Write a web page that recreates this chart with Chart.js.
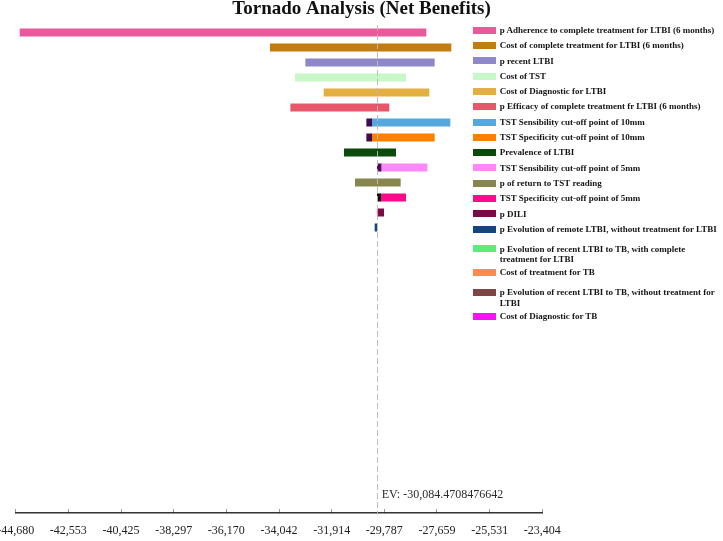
<!DOCTYPE html>
<html>
<head>
<meta charset="utf-8">
<script src="https://cdn.jsdelivr.net/npm/chart.js@4.4.1/dist/chart.umd.min.js"></script>
<style>
html,body{margin:0;padding:0;background:#fff;overflow:hidden;}
#wrap{position:relative;width:723px;height:541px;}
#c{position:absolute;left:0;top:0;}
#legend{position:absolute;left:473px;top:22.65px;width:250px;font-family:"Liberation Serif","Times New Roman",serif;font-weight:bold;font-size:9px;color:#151515;}
.item{display:flex;align-items:flex-start;padding-top:2.3px;min-height:13px;}
.box{width:22.7px;height:7px;margin-top:1.85px;flex:none;}
.txt{margin-left:4px;width:223px;line-height:10.7px;}
</style>
</head>
<body>
<div id="wrap">
<canvas id="c" width="723" height="541"></canvas>
<div id="legend"></div>
</div>
<script>
// ---- Data ----
const chartTitle = 'Tornado Analysis (Net Benefits)';
const expectedValue = -30084.4708476642;
const categories = [
  'p Adherence to complete treatment for LTBI (6 months)',
  'Cost of complete treatment for LTBI (6 months)',
  'p recent LTBI',
  'Cost of TST',
  'Cost of Diagnostic for LTBI',
  'p Efficacy of complete treatment fr LTBI (6 months)',
  'TST Sensibility cut-off point of 10mm',
  'TST Specificity cut-off point of 10mm',
  'Prevalence of LTBI',
  'TST Sensibility cut-off point of 5mm',
  'p of return to TST reading',
  'TST Specificity cut-off point of 5mm',
  'p DILI',
  'p Evolution of remote LTBI, without treatment for LTBI',
  'p Evolution of recent LTBI to TB, with complete treatment for LTBI',
  'Cost of treatment for TB',
  'p Evolution of recent LTBI to TB, without treatment for LTBI',
  'Cost of Diagnostic for TB'
];
const lowValues  = [-44506, -34393, -32963, -33383, -32224, -33569, -30297, -30297, -31404, -29921, -30959, -29933, -30070, -30163, null, null, null, null];
const highValues = [-28103, -27093, -27767, -28923, -27981, -29598, -27133, -27767, -29327, -28062, -29141, -28923, -29812, -30084, null, null, null, null];
const splitLow   = [null, null, null, null, null, null, -30499, -30499, null, -30070, null, -30070, -30123, null, null, null, null, null];
const splitHigh  = [null, null, null, null, null, null, -30297, -30297, null, -29921, null, -29933, -30070, null, null, null, null, null];
const tickValues = [-44680, -42553, -40425, -38297, -36170, -34042, -31914, -29787, -27659, -25531, -23404];

// ---- Styles ----
const barColors = ['#E85A9C','#C17D10','#8E87C8','#C8F8C8','#E3AE42','#E8566A','#55A7DC','#FF8000','#0A4A0A','#FF88F8','#86864E','#FF0A8A','#7A0C45','#15457F','#5EEB7E','#FF8A4C','#7F4545','#FF10F0'];
const splitColors = [null,null,null,null,null,null,'#3E0C52','#3E0C52',null,'#4A1256',null,'#0A0A0A','#F2DDE8',null,null,null,null,null];
const serif = '"Liberation Serif", "Times New Roman", serif';

// ---- Legend (HTML) ----
const legend = document.getElementById('legend');
categories.forEach((name, i) => {
  const it = document.createElement('div'); it.className = 'item';
  const b = document.createElement('div'); b.className = 'box'; b.style.background = barColors[i];
  const t = document.createElement('div'); t.className = 'txt'; t.textContent = name;
  it.appendChild(b); it.appendChild(t); legend.appendChild(it);
  if (t.offsetHeight > 15) it.style.marginTop = '4.5px';
});

const mainData = [];
const splitData = [];
categories.forEach((c, i) => {
  if (lowValues[i] !== null) mainData.push({x: [lowValues[i], highValues[i]], y: i});
  if (splitLow[i] !== null) splitData.push({x: [splitLow[i], splitHigh[i]], y: i});
});

const evPlugin = {
  id: 'evLine',
  afterDatasetsDraw(chart) {
    const xs = chart.scales.x, a = chart.chartArea, ctx = chart.ctx;
    const px = Math.round(xs.getPixelForValue(expectedValue)) + 0.5;
    ctx.save();
    ctx.strokeStyle = 'rgba(185,185,185,0.95)';
    ctx.lineWidth = 1;
    ctx.setLineDash([6, 3]);
    ctx.beginPath(); ctx.moveTo(px, a.top); ctx.lineTo(px, a.bottom); ctx.stroke();
    ctx.setLineDash([]);
    ctx.fillStyle = '#2a2a2a';
    ctx.font = '12px ' + serif;
    ctx.textBaseline = 'middle';
    ctx.textAlign = 'left';
    ctx.fillText('EV: ' + expectedValue.toLocaleString('en-US', {maximumFractionDigits: 10}), px + 4.2, a.bottom - 18);
    ctx.restore();
  }
};

new Chart(document.getElementById('c'), {
  type: 'bar',
  data: {
    datasets: [
      { label: 'split', data: splitData, backgroundColor: c => splitColors[c.raw.y], grouped: false, barThickness: 7.5, order: 0 },
      { label: 'range', data: mainData, backgroundColor: c => barColors[c.raw.y], grouped: false, barThickness: 7.5, order: 1 }
    ]
  },
  options: {
    indexAxis: 'y',
    responsive: false,
    animation: false,
    layout: { padding: { left: 0, right: 0, top: 0, bottom: 0 } },
    plugins: {
      legend: { display: false },
      tooltip: { enabled: false },
      title: {
        display: true, text: chartTitle, color: '#111',
        font: { family: serif, size: 19, weight: 'bold', lineHeight: 1.0 },
        padding: { top: 0, bottom: 6 }
      }
    },
    scales: {
      x: {
        type: 'linear', position: 'bottom',
        min: tickValues[0], max: tickValues[tickValues.length - 1],
        afterBuildTicks: s => { s.ticks = tickValues.map(v => ({ value: v })); },
        afterFit: s => { s.height = 28; s.paddingLeft = 0; s.paddingRight = 0; },
        border: { display: true, color: '#333', width: 1.5 },
        grid: { drawOnChartArea: false, drawTicks: true, tickLength: -4, color: '#9a9a9a', lineWidth: 1 },
        ticks: {
          padding: 14.3, color: '#222', maxRotation: 0, autoSkip: false,
          font: { family: serif, size: 12 },
          callback: v => Number(v).toLocaleString('en-US')
        }
      },
      y: {
        type: 'linear', position: 'left', reverse: true, offset: false,
        min: -0.5, max: 32.03,
        afterFit: s => { s.width = 15.7; },
        ticks: { display: false }, grid: { display: false }, border: { display: false }
      },
      yRight: {
        type: 'linear', position: 'right',
        afterFit: s => { s.width = 180.7; },
        ticks: { display: false }, grid: { display: false }, border: { display: false }
      }
    }
  },
  plugins: [evPlugin]
});
</script>
</body>
</html>
